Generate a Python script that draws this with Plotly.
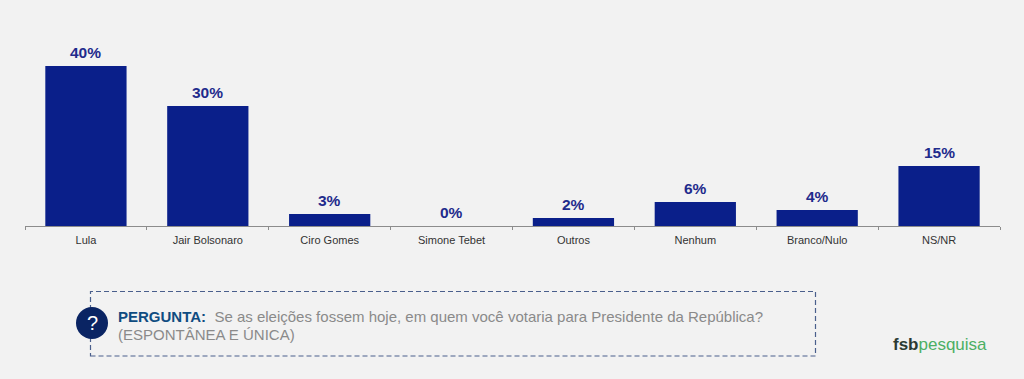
import plotly.graph_objects as go

categories = ["Lula", "Jair Bolsonaro", "Ciro Gomes", "Simone Tebet", "Outros", "Nenhum", "Branco/Nulo", "NS/NR"]
values = [40, 30, 3, 0, 2, 6, 4, 15]
labels = ["40%", "30%", "3%", "0%", "2%", "6%", "4%", "15%"]

W, H = 1024, 379
L, R, T, B = 25, 24, 26, 153
FONT = "Liberation Sans"


def px(x):
    return (x - L) / (W - L - R)


def py(y):
    return (H - B - y) / (H - T - B)


fig = go.Figure(go.Bar(
    x=categories, y=values,
    marker=dict(color="#0a1f8a", line=dict(width=0)),
    hoverinfo="skip",
))

value_labels = [
    dict(x=c, y=v, xref="x", yref="y", text=f"<b>{t}</b>", showarrow=False, yanchor="bottom", yshift=3,
         font=dict(family=FONT, size=15.5, color="#1f2b8c"))
    for c, v, t in zip(categories, values, labels)
]

fig.update_layout(
    width=W, height=H, margin=dict(l=L, r=R, t=T, b=B, autoexpand=False),
    paper_bgcolor="#f2f2f2", plot_bgcolor="#f2f2f2", showlegend=False,
    bargap=1 / 3, font=dict(family=FONT),
    xaxis=dict(type="category", tickson="boundaries", ticks="outside", ticklen=3, tickwidth=1,
               tickcolor="#8c8c8c", showline=True, linecolor="#8c8c8c", linewidth=1, showgrid=False,
               ticklabelstandoff=4,
               tickfont=dict(family=FONT, size=11, color="#333333"), fixedrange=True),
    yaxis=dict(range=[0, 50], visible=False, fixedrange=True),
    shapes=[
        dict(type="rect", xref="paper", yref="paper", x0=px(90.5), x1=px(815.5), y0=py(356), y1=py(291.5),
             line=dict(color="#4a5f8c", width=1.2, dash="5px,3px"), fillcolor="rgba(0,0,0,0)"),
        dict(type="circle", xref="paper", yref="paper", x0=px(76), x1=px(108), y0=py(339), y1=py(307),
             line=dict(width=0), fillcolor="#0a2463"),
    ],
    annotations=value_labels + [
        dict(xref="paper", yref="paper", x=px(92), y=py(323), text="?", showarrow=False,
             font=dict(family=FONT, size=20, color="white"), xanchor="center", yanchor="middle"),
        dict(xref="paper", yref="paper", x=px(116), y=py(316), xanchor="left", yanchor="middle", showarrow=False,
             text="<b><span style='color:#0f4c81'>PERGUNTA:</span></b>  Se as eleições fossem hoje, em quem você votaria para Presidente da República?",
             font=dict(family=FONT, size=15, color="#8a8a8a")),
        dict(xref="paper", yref="paper", x=px(116), y=py(334), xanchor="left", yanchor="middle", showarrow=False,
             text="(ESPONTÂNEA E ÚNICA)", font=dict(family=FONT, size=15, color="#8a8a8a")),
        dict(xref="paper", yref="paper", x=px(891), y=py(344), xanchor="left", yanchor="middle", showarrow=False,
             text="<b><span style='color:#2b3a33'>fsb</span></b><span style='color:#4caf64'>pesquisa</span>",
             font=dict(family=FONT, size=17)),
    ],
)

fig.write_html("out.html", config=dict(displayModeBar=False),
               post_script="document.body.style.margin='0';document.body.style.background='#f2f2f2';")
